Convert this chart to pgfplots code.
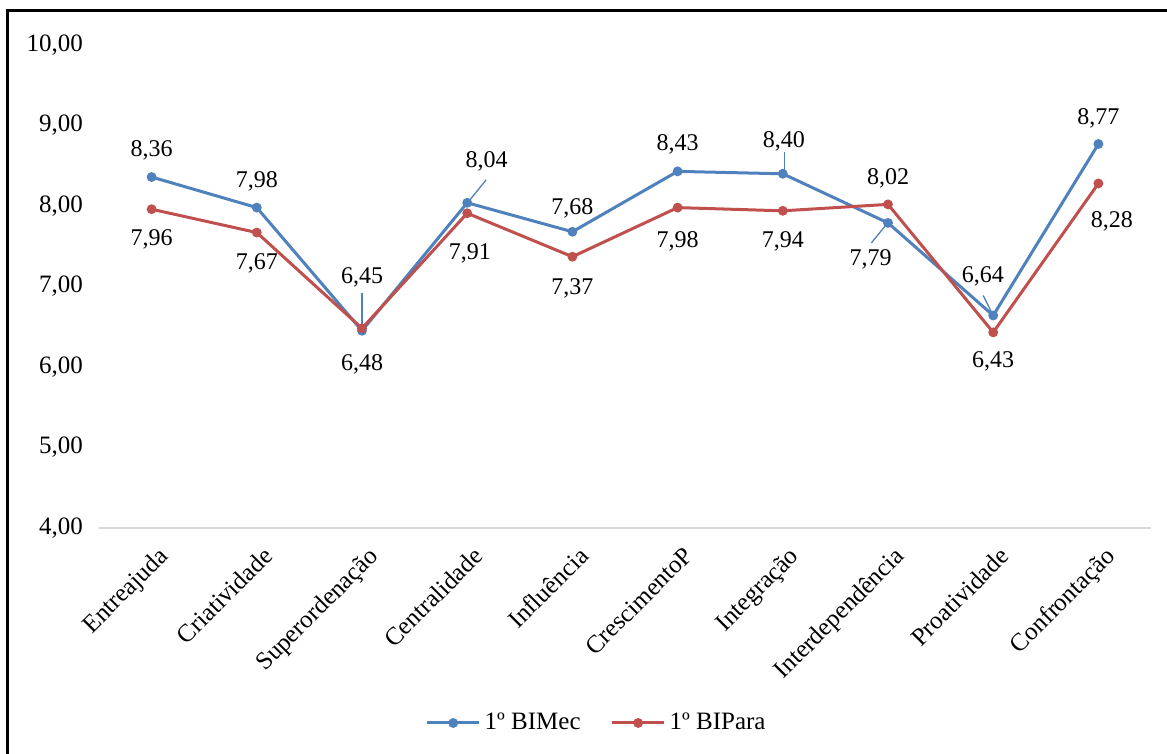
\documentclass[border=0pt]{standalone}
\usepackage{fontspec}
\setmainfont{Liberation Serif}
\usepackage{pgfplots}
\pgfplotsset{compat=1.18}
\usepackage{pgfplotstable}
\definecolor{cblue}{HTML}{4F81BD}
\definecolor{cred}{HTML}{C0504D}
\definecolor{cgrid}{HTML}{D9D9D9}

\pgfplotstableread{
x y dx dy
0 8.36 0 13.25
1 7.98 0 13.25
2 6.45 0 26.7
3 8.04 9.75 20.75
4 7.68 0 11.75
5 8.43 0 13.75
6 8.40 0.5 16.25
7 7.79 -8.7 -18.2
8 6.64 -5.2 19.6
9 8.77 0 13
}\mec

\pgfplotstableread{
x y dx dy
0 7.96 0 -15
1 7.67 0 -15.5
2 6.48 0 -18
3 7.91 1.35 -20.3
4 7.37 0 -15.75
5 7.98 0 -16.75
6 7.94 0 -15.4
7 8.02 0 13.25
8 6.43 0 -14.7
9 8.28 6.7 -18.75
}\para

\begin{document}
\begin{tikzpicture}
\useasboundingbox (0,0) rectangle (583.5pt,377pt);
\draw[line width=1.25pt] (3.75pt,-5pt) -- (3.75pt,371.75pt) -- (590pt,371.75pt);
\begin{axis}[
  at={(49.5pt,113pt)}, anchor=south west,
  scale only axis, width=526pt, height=241.5pt,
  clip=false,
  xmin=-0.5, xmax=9.5, ymin=4, ymax=10,
  ytick={4,5,...,10},
  xtick={0,...,9},
  xticklabels={Entreajuda,Criatividade,Superordenação,Centralidade,Influência,CrescimentoP,Integração,Interdependência,Proatividade,Confrontação},
  axis lines*=left,
  x axis line style={draw=cgrid, line width=1pt, -},
  y axis line style={draw=none},
  major tick length=0pt,
  /pgf/number format/assume math mode=true,
  yticklabel style={font=\fontsize{12.5}{14}\selectfont, anchor=east, xshift=-4.5pt,
    /pgf/number format/fixed, /pgf/number format/fixed zerofill,
    /pgf/number format/precision=2, /pgf/number format/use comma},
  xticklabel style={font=\fontsize{12.5}{14}\selectfont, xshift=2.5pt, yshift=-3.8pt, rotate=45, anchor=north east},
  legend style={at={(axis description cs:0.474,-0.4037)}, anchor=center, draw=none, fill=none,
    font=\fontsize{12.5}{14}\selectfont, /tikz/every even column/.append style={column sep=13pt}},
  legend columns=2,
  legend image code/.code={\draw[#1, mark repeat=2, mark phase=2] plot coordinates {(0pt,0pt)(13pt,0pt)(26pt,0pt)};},
  nodes near coords={\pgfmathprintnumber[fixed, fixed zerofill, precision=2, use comma]{\pgfplotspointmeta}},
  every node near coord/.append style={anchor=center, black, font=\fontsize{12}{14}\selectfont, xshift=\dx pt, yshift=\dy pt},
]
\addplot[cblue, line width=1.5pt, mark=*, mark size=2.2pt, mark options={solid, line width=0.5pt, fill=cblue, draw=cblue},
  visualization depends on={\thisrow{dx} \as \dx},
  visualization depends on={\thisrow{dy} \as \dy}] table[x=x, y=y] {\mec};
\addlegendentry{1º BIMec}
\addplot[cred, line width=1.5pt, mark=*, mark size=2.2pt, mark options={solid, line width=0.5pt, fill=cred, draw=cred},
  visualization depends on={\thisrow{dx} \as \dx},
  visualization depends on={\thisrow{dy} \as \dy}] table[x=x, y=y] {\para};
\addlegendentry{1º BIPara}
\draw[cblue, line width=0.65pt] ([shift={(0pt,2pt)}]axis cs:2,6.45) -- ([shift={(0pt,18.8pt)}]axis cs:2,6.45);
\draw[cblue, line width=0.65pt] ([shift={(1pt,1pt)}]axis cs:3,8.04) -- ([shift={(9.5pt,11.5pt)}]axis cs:3,8.04);
\draw[cblue, line width=0.65pt] ([shift={(0.7pt,2pt)}]axis cs:6,8.40) -- ([shift={(0.7pt,10.8pt)}]axis cs:6,8.40);
\draw[cblue, line width=0.65pt] ([shift={(-1pt,-1pt)}]axis cs:7,7.79) -- ([shift={(-8.3pt,-10pt)}]axis cs:7,7.79);
\draw[cblue, line width=0.65pt] ([shift={(-1pt,2pt)}]axis cs:8,6.64) -- ([shift={(-5pt,10pt)}]axis cs:8,6.64);
\end{axis}
\end{tikzpicture}
\end{document}
